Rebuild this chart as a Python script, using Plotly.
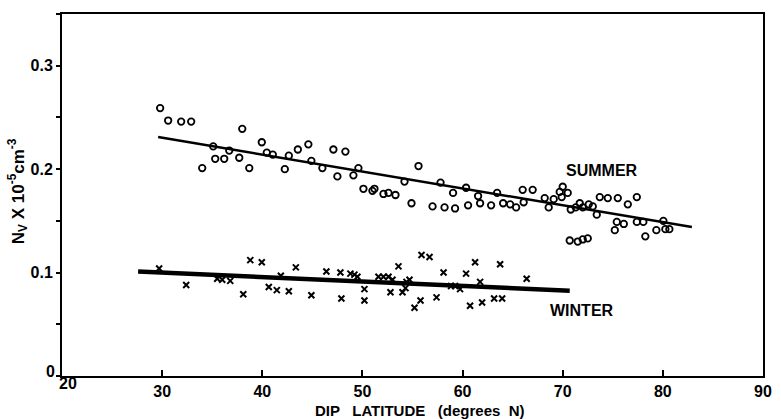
import plotly.graph_objects as go

# ---- data ----
summer_lat = [29.8, 30.6, 31.9, 32.9, 34.0, 35.1, 35.3, 36.2, 36.7, 37.7, 38.0, 38.7,
              39.95, 40.45, 41.05, 42.25, 42.65, 43.55, 44.6, 44.9, 46.0, 47.1, 47.5, 48.3,
              49.1, 49.6, 50.1, 51.0, 51.2, 52.1, 52.6, 53.3, 54.2, 54.9, 55.6, 57.0,
              57.8, 58.2, 59.05, 59.25, 60.35, 60.55, 61.55, 61.75, 62.85, 63.45, 64.05, 64.75,
              65.35, 66.0, 66.1, 67.0, 68.2, 68.6, 69.1, 69.7, 70.0, 69.9, 70.5, 70.8,
              71.3, 71.7, 72.0, 72.6, 73.0, 73.4, 73.7, 74.5, 75.5, 76.5, 77.4, 75.2,
              75.4, 76.1, 77.4, 78.05, 78.25, 79.35, 80.05, 80.25, 80.65, 70.7, 71.5, 72.0, 72.5]
summer_nv = [0.259, 0.247, 0.246, 0.246, 0.201, 0.222, 0.210, 0.210, 0.218, 0.211, 0.239, 0.201,
             0.226, 0.216, 0.214, 0.200, 0.213, 0.219, 0.224, 0.208, 0.201, 0.219, 0.193, 0.217,
             0.194, 0.201, 0.181, 0.179, 0.181, 0.176, 0.177, 0.175, 0.188, 0.167, 0.203, 0.164,
             0.187, 0.163, 0.177, 0.162, 0.182, 0.165, 0.174, 0.167, 0.165, 0.177, 0.167, 0.166,
             0.163, 0.180, 0.168, 0.180, 0.172, 0.163, 0.171, 0.178, 0.183, 0.173, 0.177, 0.161,
             0.163, 0.167, 0.163, 0.166, 0.164, 0.156, 0.173, 0.172, 0.172, 0.166, 0.173, 0.141,
             0.149, 0.147, 0.149, 0.149, 0.135, 0.141, 0.150, 0.142, 0.142, 0.131, 0.130, 0.132, 0.133]

winter_lat = [29.7, 32.4, 35.5, 36.0, 36.8, 38.1, 38.8, 39.95, 40.65, 41.45, 41.85, 42.65,
              43.35, 44.9, 46.4, 47.8, 47.9, 48.8, 49.2, 49.5, 50.2, 50.2, 51.6, 52.1,
              52.6, 53.0, 52.8, 53.6, 54.0, 54.3, 54.4, 54.7, 55.2, 55.8, 55.9, 56.7,
              57.4, 58.1, 58.85, 59.25, 59.75, 60.35, 60.75, 61.25, 61.75, 61.95, 63.15, 63.75,
              63.95, 66.4]
winter_nv = [0.104, 0.088, 0.094, 0.093, 0.092, 0.079, 0.112, 0.110, 0.086, 0.083, 0.097, 0.082,
             0.105, 0.078, 0.101, 0.100, 0.075, 0.099, 0.098, 0.096, 0.084, 0.073, 0.096, 0.096,
             0.096, 0.093, 0.081, 0.106, 0.081, 0.085, 0.091, 0.093, 0.066, 0.073, 0.117, 0.115,
             0.076, 0.100, 0.087, 0.087, 0.084, 0.099, 0.068, 0.110, 0.091, 0.071, 0.075, 0.108,
             0.075, 0.094]

summer_fit_lat = [29.6, 82.9]
summer_fit_nv = [0.231, 0.144]
winter_fit_lat = [27.6, 70.7]
winter_fit_nv = [0.101, 0.0825]

x_ticks = [20, 30, 40, 50, 60, 70, 80, 90]
x_ticktext = ["", "30", "40", "50", "60", "70", "80", "90"]
y_ticks = [0, 0.05, 0.1, 0.15, 0.2, 0.25, 0.3, 0.35]
y_ticktext = ["", "", "0.1", "", "0.2", "", "0.3", ""]

FONT = "Liberation Sans"

fig = go.Figure()
fig.add_trace(go.Scatter(x=summer_fit_lat, y=summer_fit_nv, mode="lines",
                         line=dict(color="black", width=2.5), showlegend=False))
fig.add_trace(go.Scatter(x=winter_fit_lat, y=winter_fit_nv, mode="lines",
                         line=dict(color="black", width=4.5), showlegend=False))
fig.add_trace(go.Scatter(x=summer_lat, y=summer_nv, mode="markers",
                         marker=dict(symbol="circle-open", size=6.5, color="black",
                                     line=dict(width=1.8, color="black")),
                         showlegend=False))
fig.add_trace(go.Scatter(x=winter_lat, y=winter_nv, mode="markers",
                         marker=dict(symbol="x-thin-open", size=6, color="black",
                                     line=dict(width=2, color="black")),
                         showlegend=False))

fig.update_xaxes(range=[20, 90], tickvals=x_ticks, ticktext=x_ticktext,
                 ticks="inside", ticklen=6, tickwidth=2, tickcolor="black",
                 showline=True, linecolor="black", linewidth=2, mirror=True,
                 showgrid=False, zeroline=False,
                 tickfont=dict(family=FONT, size=16, color="black", weight="bold"))
fig.update_yaxes(range=[0, 0.35], tickvals=y_ticks, ticktext=y_ticktext,
                 ticks="outside", ticklen=4, tickwidth=2, tickcolor="black",
                 showline=True, linecolor="black", linewidth=2, mirror=True,
                 showgrid=False, zeroline=False,
                 tickfont=dict(family=FONT, size=16, color="black", weight="bold"))

fig.update_layout(
    width=781, height=419,
    margin=dict(l=62, r=9, t=14, b=43),
    paper_bgcolor="white", plot_bgcolor="white",
    font=dict(family=FONT, color="black"),
    annotations=[
        dict(text="<b>0</b>", x=-0.017, y=0.013, xref="paper", yref="paper",
             showarrow=False, font=dict(size=16, family=FONT), xanchor="center", yanchor="middle"),
        dict(text="<b>20</b>", x=0.0092, y=-0.022, xref="paper", yref="paper",
             showarrow=False, font=dict(size=16, family=FONT), xanchor="center", yanchor="middle"),
        dict(text="<b>DIP   LATITUDE   (degrees  N)</b>", x=0.5095, y=-0.095, xref="paper", yref="paper",
             showarrow=False, font=dict(size=15, family=FONT), xanchor="center", yanchor="middle"),
        dict(text="<b>N<sub>V</sub> X 10<sup>-5</sup>cm<sup>-3</sup></b>", x=-0.063, y=0.51,
             xref="paper", yref="paper", textangle=-90,
             showarrow=False, font=dict(size=17, family=FONT), xanchor="center", yanchor="middle"),
        dict(text="<b>SUMMER</b>", x=73.9, y=0.199, xref="x", yref="y",
             showarrow=False, font=dict(size=16, family=FONT), xanchor="center", yanchor="middle"),
        dict(text="<b>WINTER</b>", x=71.9, y=0.063, xref="x", yref="y",
             showarrow=False, font=dict(size=16, family=FONT), xanchor="center", yanchor="middle"),
    ],
)

fig.write_html("out.html")
